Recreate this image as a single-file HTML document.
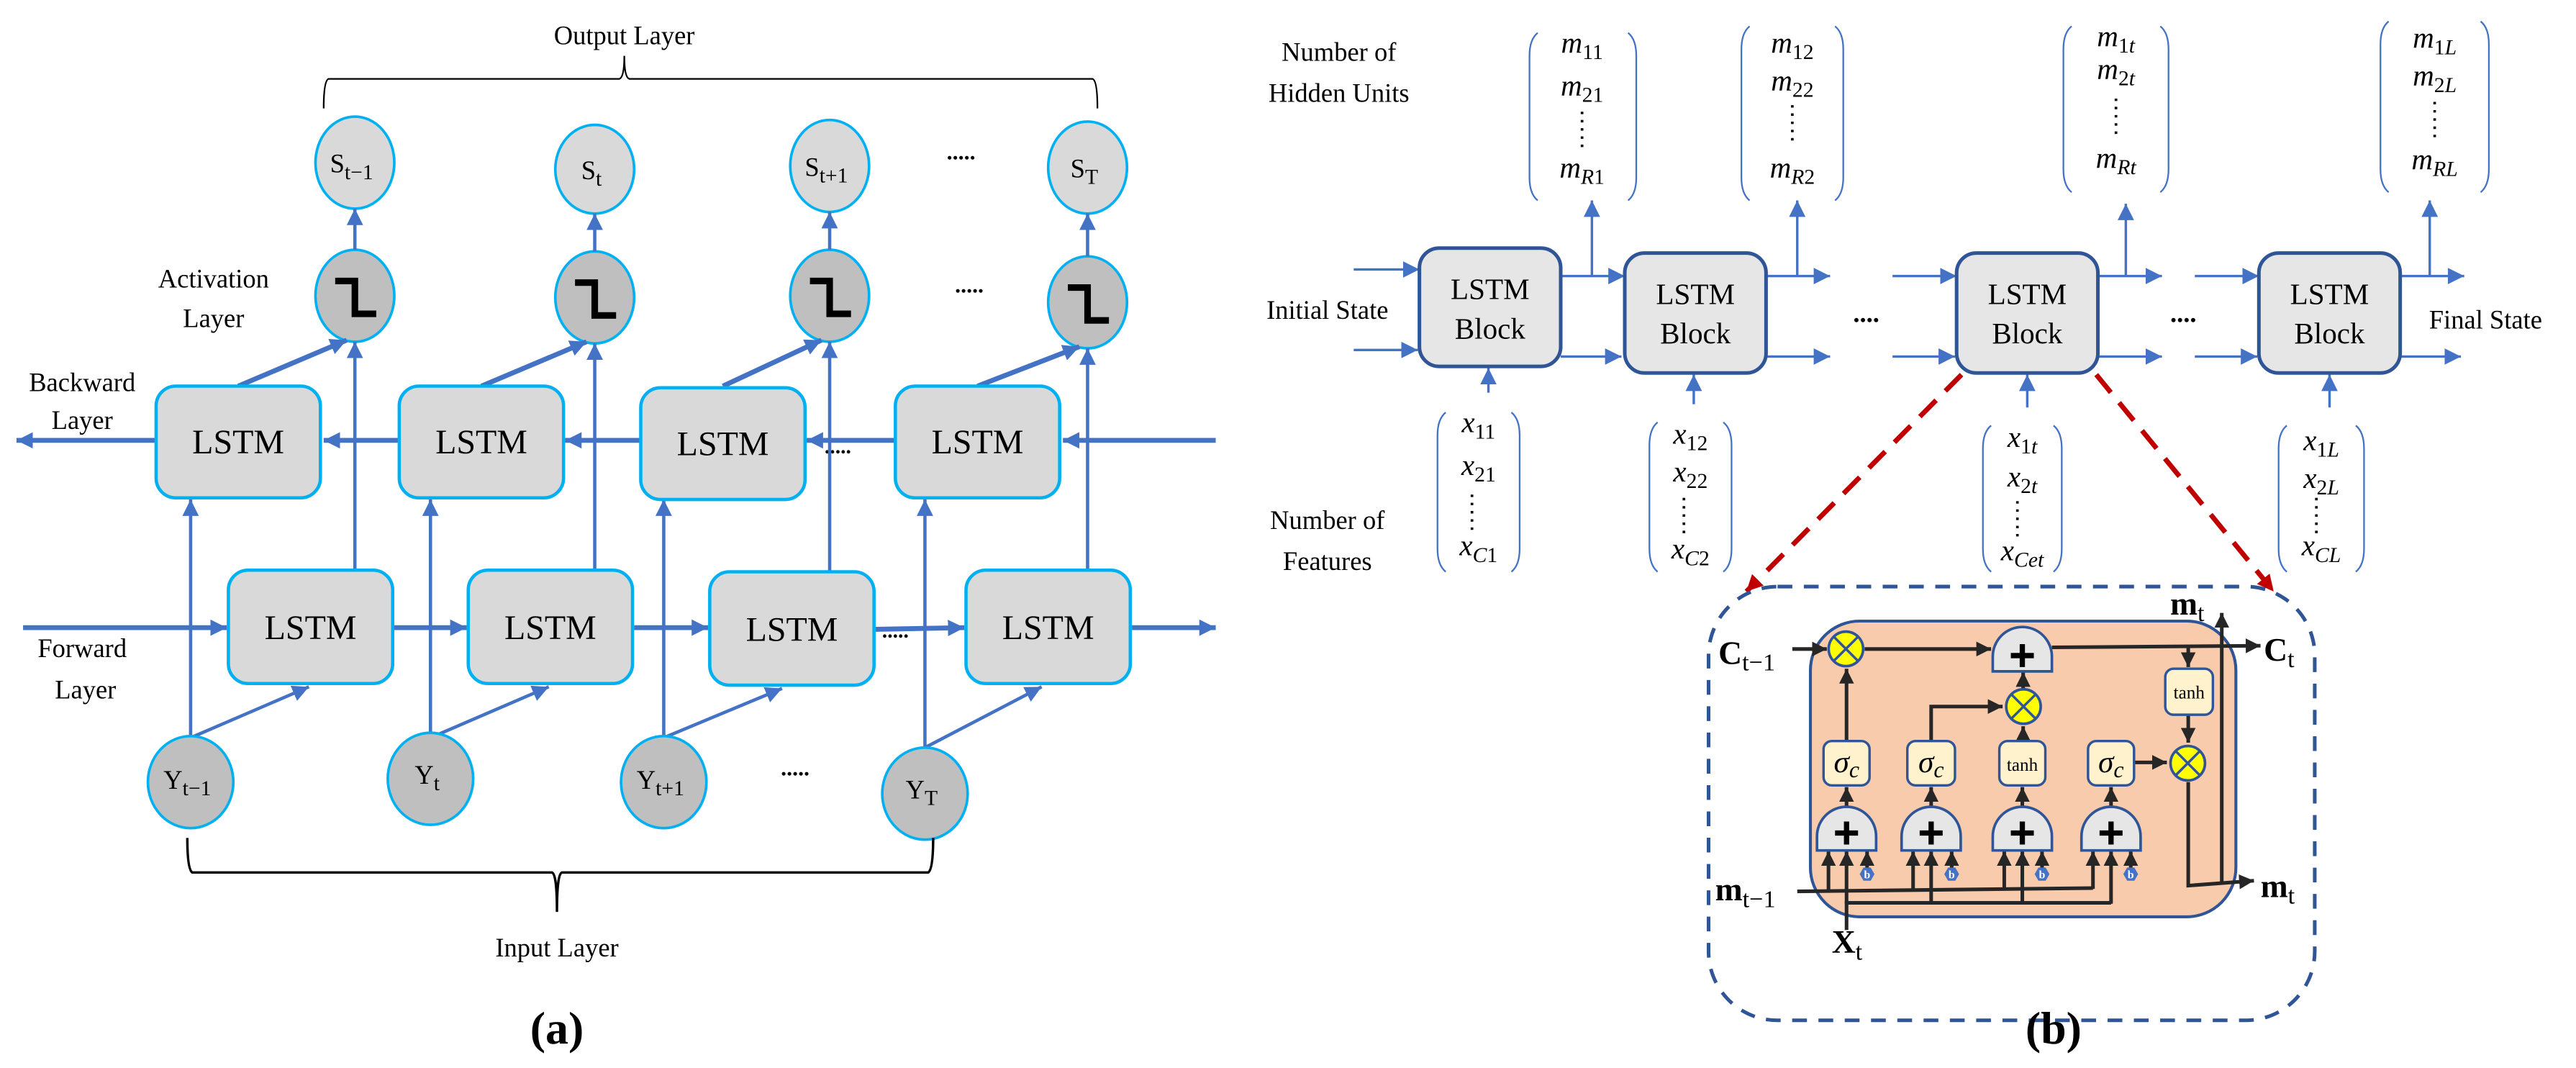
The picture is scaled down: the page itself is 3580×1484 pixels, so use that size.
<!DOCTYPE html>
<html><head><meta charset="utf-8"><style>
html,body{margin:0;padding:0;background:#fff;}
svg{display:block;}
svg, svg text{font-family:"Liberation Serif","DejaVu Serif",serif;}
</style></head><body>
<svg width="3580" height="1484" viewBox="0 0 1568 650" xmlns="http://www.w3.org/2000/svg" font-family="Liberation Serif, DejaVu Serif, serif">
<defs>
<marker id="ab" viewBox="0 0 10 10" refX="10" refY="5" markerWidth="10" markerHeight="10" markerUnits="userSpaceOnUse" orient="auto"><path d="M0,0 L10,5 L0,10 z" fill="#4472c4"/></marker>
<marker id="ak" viewBox="0 0 10 10" refX="10" refY="5" markerWidth="9" markerHeight="9" markerUnits="userSpaceOnUse" orient="auto"><path d="M0,0 L10,5 L0,10 z" fill="#262626"/></marker>
<marker id="ar" viewBox="0 0 10 10" refX="10" refY="5" markerWidth="10" markerHeight="10" markerUnits="userSpaceOnUse" orient="auto"><path d="M0,0 L10,5 L0,10 z" fill="#c00000"/></marker>
</defs>

<!-- ============ (a) ============ -->
<text x="380" y="27" font-size="16" text-anchor="middle">Output Layer</text>
<path d="M197,66 Q197,49 200,48 H377 Q380,47 380,34 Q380,47 383,48 H665 Q668,49 668,66" fill="none" stroke="#000" stroke-width="1"/>

<g fill="#d9d9d9" stroke="#00b0f0" stroke-width="1.6">
<ellipse cx="216" cy="99" rx="24" ry="28"/>
<ellipse cx="362" cy="103" rx="24" ry="27"/>
<ellipse cx="505" cy="101" rx="24" ry="28"/>
<ellipse cx="662" cy="102" rx="24" ry="28"/>
</g>
<g font-size="16" text-anchor="middle">
<text x="214" y="105">S<tspan font-size="13" dy="4">t−1</tspan></text>
<text x="360" y="109">S<tspan font-size="13" dy="4">t</tspan></text>
<text x="503" y="107">S<tspan font-size="13" dy="4">t+1</tspan></text>
<text x="660" y="108">S<tspan font-size="13" dy="4">T</tspan></text>
</g>
<text x="585" y="97" font-size="14" font-weight="bold" text-anchor="middle">.....</text>

<text x="130" y="175" font-size="16" text-anchor="middle">Activation</text>
<text x="130" y="199" font-size="16" text-anchor="middle">Layer</text>
<g fill="#bfbfbf" stroke="#00b0f0" stroke-width="1.6">
<ellipse cx="216" cy="180" rx="24" ry="28"/>
<ellipse cx="362" cy="181" rx="24" ry="28"/>
<ellipse cx="505" cy="180" rx="24" ry="28"/>
<ellipse cx="662" cy="184" rx="24" ry="28"/>
</g>
<g fill="none" stroke="#000" stroke-width="4">
<path d="M204,171 H216 V191 H229"/>
<path d="M350,172 H362 V192 H375"/>
<path d="M493,171 H505 V191 H518"/>
<path d="M650,175 H662 V195 H675"/>
</g>
<text x="590" y="178" font-size="14" font-weight="bold" text-anchor="middle">.....</text>

<g stroke="#4472c4" stroke-width="2" marker-end="url(#ab)">
<line x1="216" y1="152" x2="216" y2="127"/>
<line x1="362" y1="153" x2="362" y2="130"/>
<line x1="505" y1="152" x2="505" y2="129"/>
<line x1="662" y1="156" x2="662" y2="130"/>
</g>

<g stroke="#4472c4" stroke-width="3" marker-end="url(#ab)">
<line x1="740" y1="268" x2="647" y2="268"/>
<line x1="545" y1="268" x2="491" y2="268"/>
<line x1="390" y1="268" x2="344" y2="268"/>
<line x1="243" y1="268" x2="197" y2="268"/>
<line x1="95" y1="268" x2="10" y2="268"/>
</g>
<text x="50" y="238" font-size="16" text-anchor="middle">Backward</text>
<text x="50" y="261" font-size="16" text-anchor="middle">Layer</text>
<text x="510" y="276" font-size="13" font-weight="bold" text-anchor="middle">.....</text>

<g stroke="#4472c4" stroke-width="3" marker-end="url(#ab)">
<line x1="14" y1="382" x2="138" y2="382"/>
<line x1="240" y1="382" x2="284" y2="382"/>
<line x1="386" y1="382" x2="431" y2="382"/>
<line x1="533" y1="383" x2="587" y2="382"/>
<line x1="689" y1="382" x2="740" y2="382"/>
</g>
<text x="50" y="400" font-size="16" text-anchor="middle">Forward</text>
<text x="52" y="425" font-size="16" text-anchor="middle">Layer</text>
<text x="545" y="388" font-size="13" font-weight="bold" text-anchor="middle">.....</text>

<g stroke="#4472c4" stroke-width="2" marker-end="url(#ab)">
<line x1="116" y1="449" x2="116" y2="304"/>
<line x1="262" y1="449" x2="262" y2="304"/>
<line x1="404" y1="449" x2="404" y2="304"/>
<line x1="563" y1="455" x2="563" y2="304"/>
<line x1="116" y1="449" x2="188" y2="418"/>
<line x1="262" y1="449" x2="334" y2="418"/>
<line x1="404" y1="449" x2="476" y2="419"/>
<line x1="563" y1="455" x2="634" y2="418"/>
<line x1="216" y1="347" x2="216" y2="208"/>
<line x1="362" y1="347" x2="362" y2="209"/>
<line x1="505" y1="348" x2="505" y2="208"/>
<line x1="662" y1="347" x2="662" y2="212"/>
</g>
<g stroke="#4472c4" stroke-width="3" marker-end="url(#ab)">
<line x1="145" y1="235" x2="211" y2="207"/>
<line x1="293" y1="235" x2="357" y2="208"/>
<line x1="440" y1="235" x2="500" y2="207"/>
<line x1="595" y1="235" x2="657" y2="211"/>
</g>

<g fill="#d9d9d9" stroke="#00b0f0" stroke-width="2">
<rect x="95" y="235" width="100" height="68" rx="12"/>
<rect x="243" y="235" width="100" height="68" rx="12"/>
<rect x="390" y="236" width="100" height="68" rx="12"/>
<rect x="545" y="235" width="100" height="68" rx="12"/>
<rect x="139" y="347" width="100" height="69" rx="12"/>
<rect x="285" y="347" width="100" height="69" rx="12"/>
<rect x="432" y="348" width="100" height="69" rx="12"/>
<rect x="588" y="347" width="100" height="69" rx="12"/>
</g>
<g font-size="21" text-anchor="middle">
<text x="145" y="276">LSTM</text>
<text x="293" y="276">LSTM</text>
<text x="440" y="277">LSTM</text>
<text x="595" y="276">LSTM</text>
<text x="189" y="389">LSTM</text>
<text x="335" y="389">LSTM</text>
<text x="482" y="390">LSTM</text>
<text x="638" y="389">LSTM</text>
</g>

<g fill="#bfbfbf" stroke="#00b0f0" stroke-width="1.6">
<ellipse cx="116" cy="476" rx="26" ry="28"/>
<ellipse cx="262" cy="474" rx="26" ry="28"/>
<ellipse cx="404" cy="476" rx="26" ry="28"/>
<ellipse cx="563" cy="483" rx="26" ry="28"/>
</g>
<g font-size="16" text-anchor="middle">
<text x="114" y="480">Y<tspan font-size="13" dy="4">t−1</tspan></text>
<text x="260" y="477">Y<tspan font-size="13" dy="4">t</tspan></text>
<text x="402" y="480">Y<tspan font-size="13" dy="4">t+1</tspan></text>
<text x="561" y="486">Y<tspan font-size="13" dy="4">T</tspan></text>
</g>
<text x="484" y="472" font-size="14" font-weight="bold" text-anchor="middle">.....</text>

<path d="M114,510 Q114,529 117,531 H336 Q339,532 339,555 Q339,532 342,531 H565 Q568,529 568,510" fill="none" stroke="#000" stroke-width="1.5"/>
<text x="339" y="582" font-size="16" text-anchor="middle">Input Layer</text>
<text x="339" y="635" font-size="28" font-weight="bold" text-anchor="middle">(a)</text>

<!-- ============ (b) ============ -->
<text x="815" y="37" font-size="16" text-anchor="middle">Number of</text>
<text x="815" y="62" font-size="16" text-anchor="middle">Hidden Units</text>
<text x="808" y="194" font-size="16" text-anchor="middle">Initial State</text>
<text x="808" y="322" font-size="16" text-anchor="middle">Number of</text>
<text x="808" y="347" font-size="16" text-anchor="middle">Features</text>
<text x="1513" y="200" font-size="16" text-anchor="middle">Final State</text>

<g fill="none" stroke="#4472c4" stroke-width="1">
<path d="M936,20 Q931,24 931,34 V108 Q931,118 936,122 M991,20 Q996,24 996,34 V108 Q996,118 991,122"/>
<path d="M1065,16 Q1060,20 1060,30 V108 Q1060,118 1065,122 M1117,16 Q1122,20 1122,30 V108 Q1122,118 1117,122"/>
<path d="M1261,16 Q1256,20 1256,30 V103 Q1256,113 1261,117 M1315,16 Q1320,20 1320,30 V103 Q1320,113 1315,117"/>
<path d="M1454,13 Q1449,17 1449,27 V103 Q1449,113 1454,117 M1510,13 Q1515,17 1515,27 V103 Q1515,113 1510,117"/>
<path d="M880,251 Q875,255 875,265 V334 Q875,344 880,348 M920,251 Q925,255 925,265 V334 Q925,344 920,348"/>
<path d="M1009,257 Q1004,261 1004,271 V334 Q1004,344 1009,348 M1049,257 Q1054,261 1054,271 V334 Q1054,344 1049,348"/>
<path d="M1212,259 Q1207,263 1207,273 V334 Q1207,344 1212,348 M1250,259 Q1255,263 1255,273 V334 Q1255,344 1250,348"/>
<path d="M1392,259 Q1387,263 1387,273 V334 Q1387,344 1392,348 M1434,259 Q1439,263 1439,273 V334 Q1439,344 1434,348"/>
</g>
<g font-size="18" font-style="italic" text-anchor="middle">
<text x="963" y="32">m<tspan font-size="13" font-style="normal" dy="4">11</tspan></text>
<text x="963" y="58">m<tspan font-size="13" font-style="normal" dy="4">21</tspan></text>
<text x="963" y="108">m<tspan font-size="13" dy="4">R</tspan><tspan font-size="13" font-style="normal">1</tspan></text>
<text x="1091" y="32">m<tspan font-size="13" font-style="normal" dy="4">12</tspan></text>
<text x="1091" y="55">m<tspan font-size="13" font-style="normal" dy="4">22</tspan></text>
<text x="1091" y="108">m<tspan font-size="13" dy="4">R</tspan><tspan font-size="13" font-style="normal">2</tspan></text>
<text x="1288" y="28">m<tspan font-size="13" font-style="normal" dy="4">1</tspan><tspan font-size="13">t</tspan></text>
<text x="1288" y="48">m<tspan font-size="13" font-style="normal" dy="4">2</tspan><tspan font-size="13">t</tspan></text>
<text x="1288" y="102">m<tspan font-size="13" dy="4">Rt</tspan></text>
<text x="1482" y="29">m<tspan font-size="13" font-style="normal" dy="4">1</tspan><tspan font-size="13">L</tspan></text>
<text x="1482" y="52">m<tspan font-size="13" font-style="normal" dy="4">2</tspan><tspan font-size="13">L</tspan></text>
<text x="1482" y="103">m<tspan font-size="13" dy="4">RL</tspan></text>
<text x="900" y="263">x<tspan font-size="13" font-style="normal" dy="4">11</tspan></text>
<text x="900" y="289">x<tspan font-size="13" font-style="normal" dy="4">21</tspan></text>
<text x="900" y="338">x<tspan font-size="13" dy="4">C</tspan><tspan font-size="13" font-style="normal">1</tspan></text>
<text x="1029" y="270">x<tspan font-size="13" font-style="normal" dy="4">12</tspan></text>
<text x="1029" y="293">x<tspan font-size="13" font-style="normal" dy="4">22</tspan></text>
<text x="1029" y="340">x<tspan font-size="13" dy="4">C</tspan><tspan font-size="13" font-style="normal">2</tspan></text>
<text x="1231" y="272">x<tspan font-size="13" font-style="normal" dy="4">1</tspan><tspan font-size="13">t</tspan></text>
<text x="1231" y="296">x<tspan font-size="13" font-style="normal" dy="4">2</tspan><tspan font-size="13">t</tspan></text>
<text x="1231" y="341">x<tspan font-size="13" dy="4">Cet</tspan></text>
<text x="1413" y="274">x<tspan font-size="13" font-style="normal" dy="4">1</tspan><tspan font-size="13">L</tspan></text>
<text x="1413" y="297">x<tspan font-size="13" font-style="normal" dy="4">2</tspan><tspan font-size="13">L</tspan></text>
<text x="1413" y="338">x<tspan font-size="13" dy="4">CL</tspan></text>
</g>
<g fill="none" stroke="#000" stroke-width="1.6" stroke-dasharray="1.5 3.5">
<line x1="963" y1="68" x2="963" y2="91"/>
<line x1="1091" y1="64" x2="1091" y2="87"/>
<line x1="1288" y1="60" x2="1288" y2="83"/>
<line x1="1482" y1="62" x2="1482" y2="85"/>
<line x1="896" y1="301" x2="896" y2="324"/>
<line x1="1025" y1="303" x2="1025" y2="326"/>
<line x1="1228" y1="305" x2="1228" y2="328"/>
<line x1="1410" y1="303" x2="1410" y2="326"/>
</g>

<g stroke="#4472c4" stroke-width="1.5" marker-end="url(#ab)">
<line x1="824" y1="164" x2="864" y2="164"/>
<line x1="824" y1="213" x2="863" y2="213"/>
<line x1="950" y1="168" x2="989" y2="168"/>
<line x1="950" y1="217" x2="987" y2="217"/>
<line x1="1075" y1="168" x2="1114" y2="168"/>
<line x1="1075" y1="217" x2="1114" y2="217"/>
<line x1="1152" y1="168" x2="1191" y2="168"/>
<line x1="1152" y1="217" x2="1190" y2="217"/>
<line x1="1277" y1="168" x2="1316" y2="168"/>
<line x1="1277" y1="217" x2="1316" y2="217"/>
<line x1="1336" y1="168" x2="1375" y2="168"/>
<line x1="1336" y1="217" x2="1374" y2="217"/>
<line x1="1461" y1="168" x2="1500" y2="168"/>
<line x1="1461" y1="217" x2="1498" y2="217"/>
<line x1="969" y1="168" x2="969" y2="122"/>
<line x1="1094" y1="168" x2="1094" y2="122"/>
<line x1="1294" y1="168" x2="1294" y2="124"/>
<line x1="1479" y1="168" x2="1479" y2="122"/>
<line x1="906" y1="239" x2="906" y2="224"/>
<line x1="1031" y1="246" x2="1031" y2="228"/>
<line x1="1234" y1="248" x2="1234" y2="228"/>
<line x1="1418" y1="248" x2="1418" y2="228"/>
</g>
<g fill="#e7e6e6" stroke="#2f5597" stroke-width="2.2">
<rect x="864" y="151" width="86" height="72" rx="12"/>
<rect x="989" y="154" width="86" height="73" rx="12"/>
<rect x="1191" y="154" width="86" height="73" rx="12"/>
<rect x="1375" y="154" width="86" height="73" rx="12"/>
</g>
<g font-size="18" text-anchor="middle">
<text x="907" y="182">LSTM</text><text x="907" y="206">Block</text>
<text x="1032" y="185">LSTM</text><text x="1032" y="209">Block</text>
<text x="1234" y="185">LSTM</text><text x="1234" y="209">Block</text>
<text x="1418" y="185">LSTM</text><text x="1418" y="209">Block</text>
</g>
<text x="1136" y="196" font-size="16" font-weight="bold" text-anchor="middle">....</text>
<text x="1329" y="196" font-size="16" font-weight="bold" text-anchor="middle">....</text>

<g stroke="#c00000" stroke-width="3" stroke-dasharray="14 8" marker-end="url(#ar)">
<line x1="1194" y1="228" x2="1063" y2="360"/>
<line x1="1276" y1="228" x2="1384" y2="360"/>
</g>

<rect x="1040" y="357" width="369" height="264" rx="42" fill="none" stroke="#2f5597" stroke-width="2.2" stroke-dasharray="9 7"/>
<rect x="1102" y="378" width="259" height="180" rx="30" fill="#f8cbad" stroke="#2f5597" stroke-width="1.8"/>

<g stroke="#262626" stroke-width="2.2" fill="none">
<line x1="1091" y1="395" x2="1112" y2="395" marker-end="url(#ak)"/>
<line x1="1135" y1="395" x2="1212" y2="395" marker-end="url(#ak)"/>
<line x1="1249" y1="394" x2="1376" y2="393" marker-end="url(#ak)"/>
<line x1="1332" y1="394" x2="1332" y2="406" marker-end="url(#ak)"/>
<line x1="1332" y1="435" x2="1332" y2="452" marker-end="url(#ak)"/>
<line x1="1124" y1="451" x2="1124" y2="407" marker-end="url(#ak)"/>
<path d="M1175.5,451 V430 H1219" marker-end="url(#ak)"/>
<line x1="1231.5" y1="451" x2="1231.5" y2="442" marker-end="url(#ak)"/>
<line x1="1231.5" y1="419" x2="1231.5" y2="409" marker-end="url(#ak)"/>
<line x1="1299" y1="464" x2="1319" y2="464" marker-end="url(#ak)"/>
<path d="M1332,476 V539 L1372,536" marker-end="url(#ak)"/>
<line x1="1352.4" y1="538" x2="1352.4" y2="373" marker-end="url(#ak)"/>
<line x1="1124" y1="491" x2="1124" y2="479" marker-end="url(#ak)"/>
<line x1="1175.5" y1="491" x2="1175.5" y2="479" marker-end="url(#ak)"/>
<line x1="1231" y1="491" x2="1231" y2="479" marker-end="url(#ak)"/>
<line x1="1285" y1="491" x2="1285" y2="479" marker-end="url(#ak)"/>
<path d="M1094,542.5 L1274,540.5"/>
<path d="M1124,566 V549.5 H1285"/>
<line x1="1113" y1="542" x2="1113" y2="518" marker-end="url(#ak)"/>
<line x1="1124" y1="550" x2="1124" y2="518" marker-end="url(#ak)"/>
<line x1="1136.5" y1="528" x2="1136.5" y2="518" marker-end="url(#ak)"/>
<line x1="1164.5" y1="542" x2="1164.5" y2="518" marker-end="url(#ak)"/>
<line x1="1175.5" y1="550" x2="1175.5" y2="518" marker-end="url(#ak)"/>
<line x1="1188" y1="528" x2="1188" y2="518" marker-end="url(#ak)"/>
<line x1="1220" y1="541" x2="1220" y2="518" marker-end="url(#ak)"/>
<line x1="1231" y1="550" x2="1231" y2="518" marker-end="url(#ak)"/>
<line x1="1243" y1="528" x2="1243" y2="518" marker-end="url(#ak)"/>
<line x1="1274" y1="541" x2="1274" y2="518" marker-end="url(#ak)"/>
<line x1="1285" y1="550" x2="1285" y2="518" marker-end="url(#ak)"/>
<line x1="1297" y1="528" x2="1297" y2="518" marker-end="url(#ak)"/>
</g>

<g fill="#e7e6e6" stroke="#2f5597" stroke-width="1.6">
<path d="M1213,408.6 V399.6 A18,18 0 0 1 1249,399.6 V408.6 Z"/>
<path d="M1106,517.6 V509 A18,18 0 0 1 1142,509 V517.6 Z"/>
<path d="M1157.5,517.6 V509 A18,18 0 0 1 1193.5,509 V517.6 Z"/>
<path d="M1213,517.6 V509 A18,18 0 0 1 1249,509 V517.6 Z"/>
<path d="M1267,517.6 V509 A18,18 0 0 1 1303,509 V517.6 Z"/>
</g>
<g stroke="#000" stroke-width="3.2">
<path d="M1231,392 v14 M1224,399 h14"/>
<path d="M1124,500 v14 M1117,507 h14"/>
<path d="M1175.5,500 v14 M1168.5,507 h14"/>
<path d="M1231,500 v14 M1224,507 h14"/>
<path d="M1285,500 v14 M1278,507 h14"/>
</g>
<g fill="#fff2cc" stroke="#2f5597" stroke-width="1.5">
<rect x="1110" y="451" width="28" height="27" rx="5"/>
<rect x="1161" y="451" width="29" height="27" rx="5"/>
<rect x="1217" y="451" width="28" height="27" rx="5"/>
<rect x="1271" y="451" width="28" height="27" rx="5"/>
<rect x="1318" y="407" width="29" height="28" rx="5"/>
</g>
<g font-size="19" font-style="italic" text-anchor="middle">
<text x="1124" y="470">σ<tspan font-size="14" dy="3">c</tspan></text>
<text x="1175.5" y="470">σ<tspan font-size="14" dy="3">c</tspan></text>
<text x="1285" y="470">σ<tspan font-size="14" dy="3">c</tspan></text>
</g>
<text x="1231" y="469" font-size="11" text-anchor="middle">tanh</text>
<text x="1332.5" y="425" font-size="11" text-anchor="middle">tanh</text>
<g fill="#ffff00" stroke="#2f5597" stroke-width="1.6">
<circle cx="1123.6" cy="394.9" r="10.5"/>
<circle cx="1231.7" cy="430" r="10.5"/>
<circle cx="1331.7" cy="464.5" r="10.5"/>
</g>
<g stroke="#2f5597" stroke-width="1.5">
<path d="M1116.2,387.5 L1131,402.3 M1131,387.5 L1116.2,402.3"/>
<path d="M1224.3,422.6 L1239.1,437.4 M1239.1,422.6 L1224.3,437.4"/>
<path d="M1324.3,457.1 L1339.1,471.9 M1339.1,457.1 L1324.3,471.9"/>
</g>
<g fill="#4472c4">
<polygon points="1132,532 1134.3,528 1138.7,528 1141,532 1138.7,536 1134.3,536"/>
<polygon points="1183.5,532 1185.8,528 1190.2,528 1192.5,532 1190.2,536 1185.8,536"/>
<polygon points="1238.5,532 1240.8,528 1245.2,528 1247.5,532 1245.2,536 1240.8,536"/>
<polygon points="1292.5,532 1294.8,528 1299.2,528 1301.5,532 1299.2,536 1294.8,536"/>
</g>
<g font-size="7" fill="#fff" text-anchor="middle" font-weight="bold">
<text x="1136.5" y="534.5">b</text><text x="1188" y="534.5">b</text><text x="1243" y="534.5">b</text><text x="1297" y="534.5">b</text>
</g>
<g font-size="20" font-weight="bold">
<text x="1046" y="404">C<tspan font-size="15" font-weight="normal" dy="4">t−1</tspan></text>
<text x="1378" y="402">C<tspan font-size="15" font-weight="normal" dy="4">t</tspan></text>
<text x="1321" y="374">m<tspan font-size="15" font-weight="normal" dy="4">t</tspan></text>
<text x="1376" y="546">m<tspan font-size="15" font-weight="normal" dy="4">t</tspan></text>
<text x="1044" y="548">m<tspan font-size="15" font-weight="normal" dy="4">t−1</tspan></text>
<text x="1115" y="580">X<tspan font-size="15" font-weight="normal" dy="4">t</tspan></text>
</g>
<text x="1250" y="635" font-size="28" font-weight="bold" text-anchor="middle">(b)</text>
</svg>
</body></html>
